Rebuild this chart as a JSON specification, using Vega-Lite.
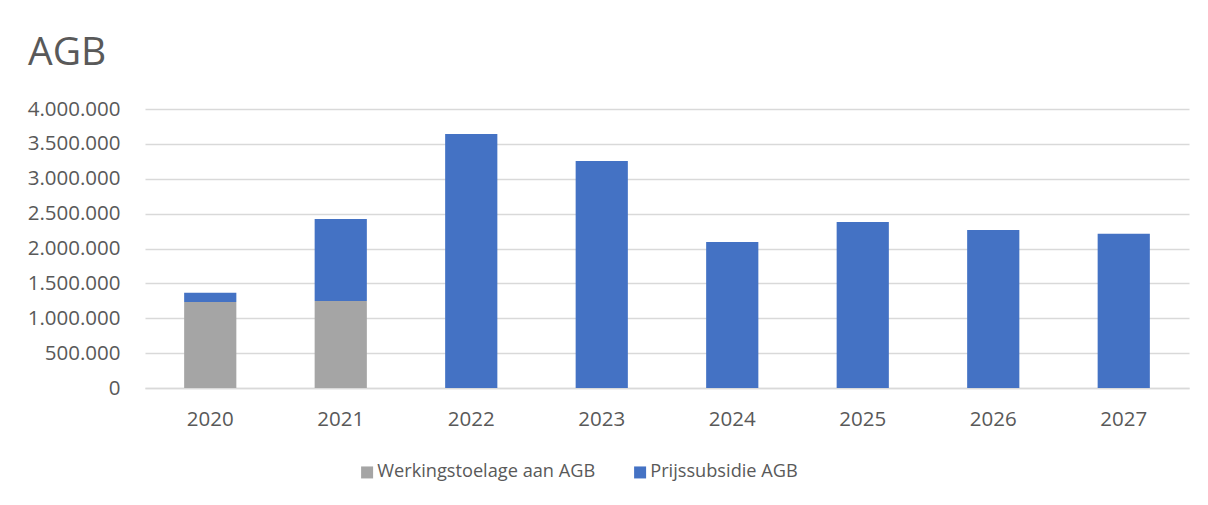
{
  "$schema": "https://vega.github.io/schema/vega-lite/v6.json",
  "autosize": {"type": "none"},
  "width": 1044,
  "height": 279,
  "padding": {"left": 145, "top": 109, "right": 19, "bottom": 117},
  "background": "white",
  "title": {
    "text": "AGB",
    "anchor": "start",
    "frame": "group",
    "dx": -117,
    "offset": 26,
    "font": "Open Sans",
    "fontSize": 39,
    "fontWeight": "normal",
    "color": "#595959"
  },
  "config": {
    "locale": {"number": {"decimal": ",", "thousands": ".", "grouping": [3], "currency": ["€", ""]}},
    "view": {"stroke": null},
    "font": "Open Sans"
  },
  "data": {
    "values": [
      {"year": "2020", "series": "Werkingstoelage aan AGB", "ord": 0, "value": 1233000},
      {"year": "2020", "series": "Prijssubsidie AGB", "ord": 1, "value": 133000},
      {"year": "2021", "series": "Werkingstoelage aan AGB", "ord": 0, "value": 1247000},
      {"year": "2021", "series": "Prijssubsidie AGB", "ord": 1, "value": 1176000},
      {"year": "2022", "series": "Prijssubsidie AGB", "ord": 1, "value": 3642000},
      {"year": "2023", "series": "Prijssubsidie AGB", "ord": 1, "value": 3254000},
      {"year": "2024", "series": "Prijssubsidie AGB", "ord": 1, "value": 2093000},
      {"year": "2025", "series": "Prijssubsidie AGB", "ord": 1, "value": 2380000},
      {"year": "2026", "series": "Prijssubsidie AGB", "ord": 1, "value": 2265000},
      {"year": "2027", "series": "Prijssubsidie AGB", "ord": 1, "value": 2212000}
    ]
  },
  "mark": {"type": "bar"},
  "encoding": {
    "x": {
      "field": "year",
      "type": "nominal",
      "scale": {"paddingInner": 0.6, "paddingOuter": 0.3},
      "axis": {
        "title": null,
        "labelAngle": 0,
        "labelFontSize": 20.5,
        "labelColor": "#595959",
        "labelPadding": 21,
        "ticks": false,
        "domainColor": "#d9d9d9",
        "domainWidth": 1.5,
        "grid": false
      }
    },
    "y": {
      "field": "value",
      "type": "quantitative",
      "stack": "zero",
      "scale": {"domain": [0, 4000000], "nice": false},
      "axis": {
        "title": null,
        "values": [0, 500000, 1000000, 1500000, 2000000, 2500000, 3000000, 3500000, 4000000],
        "format": ",d",
        "labelFontSize": 20.5,
        "labelColor": "#595959",
        "labelPadding": 25,
        "ticks": false,
        "domain": false,
        "gridColor": "#d9d9d9",
        "gridWidth": 1.5
      }
    },
    "color": {
      "field": "series",
      "type": "nominal",
      "scale": {"domain": ["Werkingstoelage aan AGB", "Prijssubsidie AGB"], "range": ["#a5a5a5", "#4472c4"]},
      "legend": {
        "title": null,
        "orient": "none",
        "direction": "horizontal",
        "padding": 0,
        "legendX": 213,
        "legendY": 354,
        "symbolType": "square",
        "symbolSize": 144,
        "symbolStrokeWidth": 0,
        "labelFontSize": 18.2,
        "labelLimit": 500,
        "labelColor": "#595959",
        "labelOffset": 1,
        "columnPadding": 35
      }
    },
    "order": {"field": "ord", "type": "quantitative"}
  }
}
